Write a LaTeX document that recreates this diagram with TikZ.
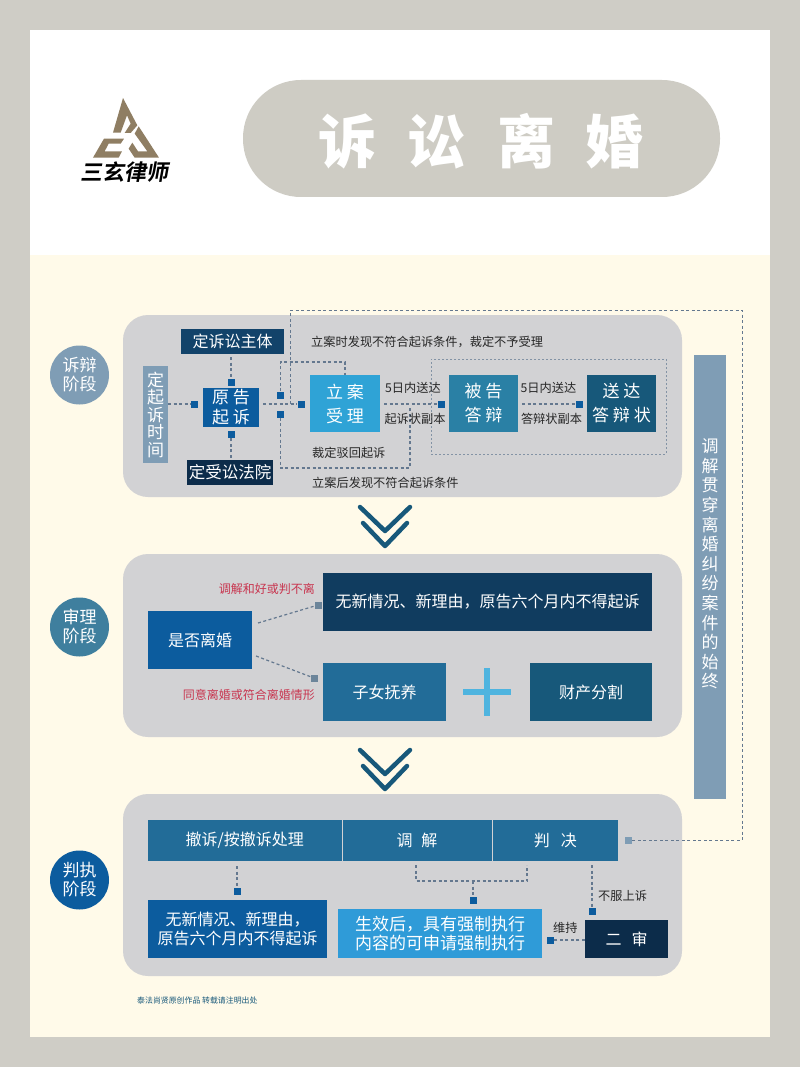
\documentclass[tikz,border=0pt]{standalone}
\usepackage{fontspec}
\setmainfont{Noto Sans CJK SC}
\newfontfamily\logofont[UprightFont=* Bold,FakeSlant=0.18]{Noto Sans CJK SC}
\usetikzlibrary{positioning}

\definecolor{outerc}{HTML}{CFCDC6}
\definecolor{creamc}{HTML}{FFFAE9}
\definecolor{pillc}{HTML}{CECCC4}
\definecolor{panelc}{HTML}{D2D2D4}
\definecolor{logoc}{HTML}{8F7E63}
\definecolor{greyb}{HTML}{7F9DB5}
\definecolor{tealc}{HTML}{3F7F9E}
\definecolor{royalc}{HTML}{0C5C9E}
\definecolor{navyc}{HTML}{12436A}
\definecolor{inkc}{HTML}{0C2C4A}
\definecolor{skyc}{HTML}{2FA3D6}
\definecolor{midc}{HTML}{2A80A5}
\definecolor{deepc}{HTML}{17587A}
\definecolor{steelc}{HTML}{226C98}
\definecolor{brightc}{HTML}{2F9BD8}
\definecolor{plusc}{HTML}{4FB4DF}
\definecolor{linkc}{HTML}{64788F}
\definecolor{redc}{HTML}{C8354F}

\tikzset{
  box/.style={inner sep=0pt,text=white,align=center},
  big/.style={font=\fontsize{17}{24}\selectfont},
  panel/.style={inner sep=0pt,fill=panelc,rounded corners=25pt},
  phase/.style={circle,inner sep=0pt,minimum size=59pt,text=white,align=center,
                font=\fontsize{17}{20}\selectfont},
  sq/.style={inner sep=0pt,minimum size=7pt,fill=royalc},
  link/.style={draw=linkc,line width=1.2pt,dash pattern=on 3pt off 2.5pt},
  lbl/.style={inner sep=0pt,text=black!85,font=\fontsize{12.2}{14}\selectfont},
  red/.style={inner sep=0pt,text=redc,font=\fontsize{12}{14}\selectfont},
  chev/.style={draw=deepc,line width=4.5pt,line cap=round,line join=round}
}

\begin{document}
\begin{tikzpicture}[x=1pt,y=-1pt,font=\fontsize{16}{22}\selectfont]
  \useasboundingbox (0,0) rectangle (800,1067);
  \fill[outerc] (0,0) rectangle (800,1067);
  \fill[white]  (30,30) rectangle (770,255);
  \fill[creamc] (30,255) rectangle (770,1037);

  % logo
  \begin{scope}[shift={(78,92)},x=0.3333pt,y=-0.3333pt,logoc]
    \fill (135,18) -- (178,100) -- (158,123) -- (140,123) -- (158,95) -- (147,70)
          -- (128,122) -- (105,122) -- cycle;
    \fill (78,140) -- (138,140) -- (128,155) -- (92,155) -- (80,178) -- (132,178)
          -- (122,197) -- (45,197) -- cycle;
    \fill (182,103) -- (243,197) -- (170,197) -- (152,170) -- (163,152) -- (180,178)
          -- (208,178) -- (170,125) -- cycle;
  \end{scope}
  \node (logotxt) [inner sep=0pt,font=\logofont\fontsize{22}{24}\selectfont] at (124,172) {三玄律师};

  % title
  \node (pill) [inner sep=0pt,fill=pillc,rounded corners=58pt,minimum width=477pt,minimum height=117pt] at (481.5,138.5) {};
  \node (title) [inner sep=0pt,text=white,font=\fontsize{58}{60}\selectfont\bfseries] at (481,141) {诉\hspace{32pt}讼\hspace{32pt}离\hspace{30pt}婚};

  % grey panels
  \node (P1) [panel,minimum width=559pt,minimum height=182pt] at (402.5,406) {};
  \node (P2) [panel,minimum width=559pt,minimum height=183pt] at (402.5,645.5) {};
  \node (P3) [panel,minimum width=559pt,minimum height=182pt] at (402.5,885) {};

  \node (C1) [phase,fill=greyb]  at (79.5,375) {诉辩\\[-1pt]阶段};
  \node (C2) [phase,fill=tealc]  at (79.5,627) {审理\\[-1pt]阶段};
  \node (C3) [phase,fill=royalc] at (79.5,880) {判执\\[-1pt]阶段};

  % first stage
  \node (zhuti)  [box,fill=navyc,minimum width=103pt,minimum height=25pt] at (232.5,341.5) {定诉讼主体};
  \node (shijian)[box,fill=greyb,minimum width=25pt,minimum height=97pt,font=\fontsize{17}{17.5}\selectfont] at (155.5,414.5) {定\\起\\诉\\时\\间};
  \node (yuan)   [box,fill=royalc,minimum width=56pt,minimum height=39pt,font=\fontsize{17}{20}\selectfont] at (231,407.5) {原 告\\起 诉};
  \node (fayuan) [box,fill=inkc,minimum width=86pt,minimum height=25pt,font=\fontsize{16.5}{20}\selectfont] at (230,472.5) {定受讼法院};
  \node (lian)   [box,big,fill=skyc,minimum width=70pt,minimum height=57pt] at (345,403.5) {立 案\\受 理};
  \node (beigao) [box,big,fill=midc,minimum width=69pt,minimum height=57pt] at (483.5,403.5) {被 告\\答 辩};
  \node (songda) [box,big,fill=deepc,minimum width=69pt,minimum height=57pt] at (621.5,403.5) {送 达\\答 辩 状};

  \node (s1) [sq] at (194,404) {};
  \node (s2) [sq] at (231,382) {};
  \node (s3) [sq] at (231,434) {};
  \node (s4) [sq] at (280.5,395) {};
  \node (s5) [sq] at (280.5,414) {};
  \node (s6) [sq] at (301,404) {};
  \node (s7) [sq] at (441,404) {};
  \node (s8) [sq] at (579,404) {};
  \node (s9) [sq,fill=greyb] at (628,840) {};

  \coordinate (m1) at (263,404);
  \coordinate (a1) at (345,362);
  \coordinate (a2) at (410,468);
  \coordinate (a3) at (410,408);
  \coordinate (o1) at (290.5,404);
  \coordinate (o2) at (290.5,310);
  \coordinate (o3) at (742,840);
  \coordinate (n1) at (384,404);
  \coordinate (n2) at (522,404);
  \path[link] (shijian.east |- s1)  edge (s1)
              (zhuti.south -| s2)   edge [shorten <=3pt] (s2)
              (fayuan.north -| s3)  edge [shorten <=2pt] (s3)
              (m1)      edge (s6)
              (n1)      edge (s7)
              (n2)      edge (s8);
  \draw[link] (s4) |- (a1) -- (lian);
  \draw[link] (s5) |- (a2) -- (a3);
  \draw[link,line width=1pt] (o1) -- (o2) -| (o3) -- (s9);
  \node (frame) [draw=linkc!80,dash pattern=on 2pt off 2pt,line width=.8pt,inner sep=0pt,minimum width=235pt,minimum height=95pt] at (548.5,406.5) {};

  \node (t1) [lbl,anchor=west] at (311,342) {立案时发现不符合起诉条件，裁定不予受理};
  \node (t2) [lbl] at (413,388) {5日内送达};
  \node (t3) [lbl] at (415,419) {起诉状副本};
  \node (t4) [lbl,anchor=west] at (312,453) {裁定驳回起诉};
  \node (t5) [lbl,anchor=west] at (312,483) {立案后发现不符合起诉条件};
  \node (t6) [lbl] at (548.5,388) {5日内送达};
  \node (t7) [lbl] at (551.5,419) {答辩状副本};

  % side bar
  \node (side) [box,fill=greyb,minimum width=32pt,minimum height=444pt] at (710,577) {};
  \node (sidetxt) [inner sep=0pt,text=white,align=center,font=\fontsize{17}{19.6}\selectfont] at (710,564) {调\\解\\贯\\穿\\离\\婚\\纠\\纷\\案\\件\\的\\始\\终};

  % chevrons
  \draw[chev] (360,507) -- (385,531) -- (410,507);
  \draw[chev] (363,523) -- (385,546) -- (407,523);
  \draw[chev] (360,750) -- (385,774) -- (410,750);
  \draw[chev] (363,766) -- (385,789) -- (407,766);

  % second stage
  \node (shifou) [box,fill=royalc,minimum width=104pt,minimum height=58pt] at (200,640) {是否离婚};
  \node (wuxin)  [box,fill=navyc!90!black,minimum width=329pt,minimum height=58pt] at (487.5,602) {无新情况、新理由，原告六个月内不得起诉};
  \node (zinv)   [box,fill=steelc,minimum width=123pt,minimum height=58pt] at (384.5,692) {子女抚养};
  \node (caichan)[box,fill=deepc,minimum width=122pt,minimum height=58pt] at (591,692) {财产分割};
  \fill[plusc] (463,689) rectangle (511,695);
  \fill[plusc] (484,668) rectangle (490,716);
  \node (s10) [sq,fill=greyb!85!black] at (318,605) {};
  \node (s11) [sq,fill=greyb!85!black] at (314,678) {};
  \coordinate (f1) at (258,623);
  \coordinate (f2) at (256,656);
  \path[link] (f1) edge (s10)
              (f2) edge (s11);
  \node (r1) [red,anchor=east] at (315,589) {调解和好或判不离};
  \node (r2) [red,anchor=east] at (315,695) {同意离婚或符合离婚情形};

  % third stage
  \node (chesu)  [box,fill=steelc,minimum width=193.5pt,minimum height=41pt] at (244.75,840.5) {撤诉/按撤诉处理};
  \node (tiaojie)[box,fill=steelc,minimum width=149pt,minimum height=41pt] at (417,840.5) {调\hspace{9pt}解};
  \node (panjue) [box,fill=steelc,minimum width=125.5pt,minimum height=41pt] at (555.25,840.5) {判\hspace{11pt}决};
  \node (wu2)    [box,fill=royalc,minimum width=179pt,minimum height=58pt,font=\fontsize{16}{19.5}\selectfont] at (237.5,929) {无新情况、新理由，\\原告六个月内不得起诉};
  \node (shengxiao)[box,fill=brightc,minimum width=204pt,minimum height=49pt,font=\fontsize{17}{19.5}\selectfont] at (440,933.5) {生效后，具有强制执行\\内容的可申请强制执行};
  \node (ershen) [box,fill=inkc,minimum width=83pt,minimum height=38pt] at (626.5,939) {二\hspace{10pt}审};

  \node (s12) [sq] at (237,891) {};
  \node (s13) [sq] at (473,900) {};
  \node (s14) [sq] at (592,911) {};
  \node (s15) [sq] at (550,940) {};
  \coordinate (b1) at (416,865);
  \coordinate (b2) at (416,881);
  \coordinate (b3) at (527,881);
  \coordinate (b4) at (527,865);
  \coordinate (b5) at (473,881);
  \coordinate (b6) at (237,866);
  \coordinate (b7) at (592,865);
  \path[link] (b6) edge (s12)
              (b7) edge (s14)
              (b5) edge (s13)
              (ershen.west |- s15) edge (s15);
  \draw[link] (b1) -- (b2) -- (b3) -- (b4);

  \node (t8) [lbl,anchor=west] at (598,896) {不服上诉};
  \node (t9) [lbl,anchor=west] at (553,928) {维持};
  \node (foot) [inner sep=0pt,anchor=west,text=deepc,font=\fontsize{7.9}{10}\selectfont] at (137,1000) {泰法尚贤原创作品 转载请注明出处};
\end{tikzpicture}
\end{document}
